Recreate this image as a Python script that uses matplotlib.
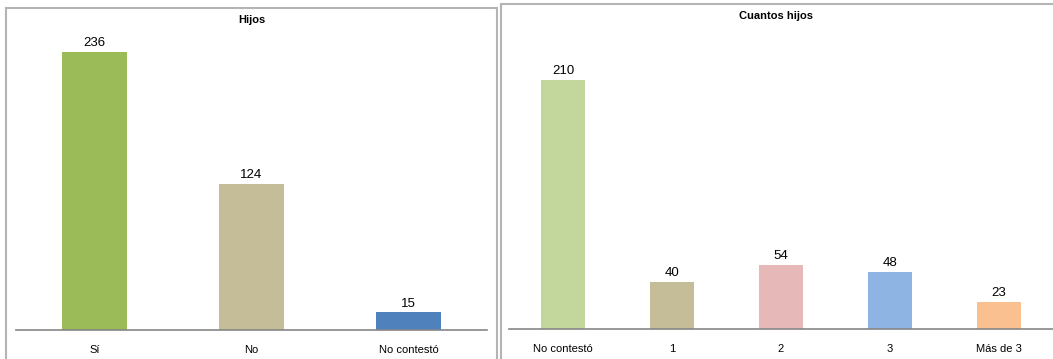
import matplotlib
matplotlib.use("Agg")
import matplotlib.pyplot as plt
from matplotlib.patches import Rectangle

plt.rcParams['font.family'] = ['Liberation Sans', 'DejaVu Sans']

# data
hijos_cats = ['Sí', 'No', 'No contestó']
hijos_vals = [236, 124, 15]
hijos_colors = ['#9BBB59', '#C4BD97', '#4F81BD']

cuantos_cats = ['No contestó', '1', '2', '3', 'Más de 3']
cuantos_vals = [210, 40, 54, 48, 23]
cuantos_colors = ['#C3D69B', '#C4BD97', '#E6B9B8', '#8EB4E3', '#FAC090']

W, H = 1053, 359
fig = plt.figure(figsize=(W / 100, H / 100), dpi=100)

def px_axes(x0, y_base, w, h):
    return fig.add_axes([x0 / W, (H - y_base) / H, w / W, h / H])

# panel borders (bottom / right edges run off the picture)
fig.patches.append(Rectangle((6 / W, -0.1), 491 / W, 0.1 + (H - 8) / H, transform=fig.transFigure,
                             fill=False, edgecolor='#B4B4B4', lw=1.5))
fig.patches.append(Rectangle((500.5 / W, -0.1), 600 / W, 0.1 + (H - 4) / H, transform=fig.transFigure,
                             fill=False, edgecolor='#B4B4B4', lw=1.5))

def bar_panel(ax, cats, vals, colors, width, title, title_y):
    x = range(len(cats))
    bars = ax.bar(x, vals, width=width, color=colors)
    ax.set_xlim(-0.5, len(cats) - 0.5)
    ax.set_ylim(0, 250)
    for b, v in zip(bars, vals):
        ax.annotate(str(v), (b.get_x() + b.get_width() / 2, v), xytext=(0, 2),
                    textcoords='offset points', ha='center', va='bottom', fontsize=9.5)
    ax.set_xticks(list(x))
    ax.set_xticklabels(cats, fontsize=8)
    ax.tick_params(axis='x', length=0, pad=11)
    ax.set_yticks([])
    for s in ['top', 'right', 'left']:
        ax.spines[s].set_visible(False)
    ax.spines['bottom'].set_color('#868686')
    ax.spines['bottom'].set_linewidth(1.2)
    ax.set_facecolor('none')
    fig.text(title_y[0] / W, 1 - title_y[1] / H, title, ha='center', va='center',
             fontsize=8, fontweight='bold')

ax1 = px_axes(16, 330, 471, 294.5)
bar_panel(ax1, hijos_cats, hijos_vals, hijos_colors, 0.41, 'Hijos', (252, 20))

ax2 = px_axes(508.5, 329, 545, 296.5)
bar_panel(ax2, cuantos_cats, cuantos_vals, cuantos_colors, 0.40, 'Cuantos hijos', (776, 16))

fig.savefig('out.png', dpi=100)
